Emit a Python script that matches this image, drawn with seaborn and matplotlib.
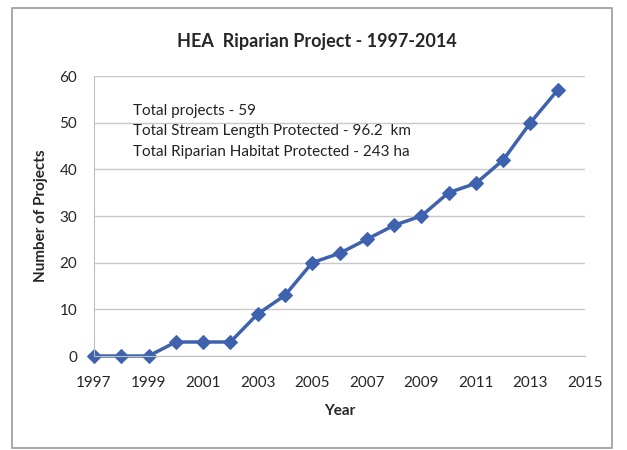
import matplotlib
matplotlib.use("Agg")
import matplotlib.pyplot as plt
import seaborn as sns
import pandas as pd
from matplotlib.patches import Rectangle

# Data
years = [1997, 1998, 1999, 2000, 2001, 2002, 2003, 2004, 2005,
         2006, 2007, 2008, 2009, 2010, 2011, 2012, 2013, 2014]
projects = [0, 0, 0, 3, 3, 3, 9, 13, 20,
            22, 25, 28, 30, 35, 37, 42, 50, 57]
notes = ["Total projects - 59",
         "Total Stream Length Protected - 96.2  km",
         "Total Riparian Habitat Protected - 243 ha"]

df = pd.DataFrame({"Year": years, "Projects": projects})

sns.set_style("white")
plt.rcParams["font.family"] = ["Lato", "DejaVu Sans"]

fig = plt.figure(figsize=(6.27, 4.5), dpi=100)
ax = fig.add_axes([94 / 627, 94 / 450, 491 / 627, 280 / 450])

sns.lineplot(
    x="Year",
    y="Projects",
    data=df,
    marker="D",
    markersize=7,
    color="#3F62AE",
    markeredgecolor="#3F62AE",
    linewidth=2.5,
    clip_on=False,
    ax=ax
)

ax.set_xlim(1997, 2015)
ax.set_ylim(0, 60)
ax.set_xticks(range(1997, 2016, 2))
ax.set_yticks(range(0, 61, 10))
ax.yaxis.grid(True, color="#C8C8C8", linewidth=1)
ax.xaxis.grid(False)
for s in ["top", "right"]:
    ax.spines[s].set_visible(False)
ax.spines["left"].set_color("#BEBEBE")
ax.spines["bottom"].set_color("#BEBEBE")
ax.tick_params(axis="x", length=5, color="#BEBEBE", direction="inout", labelsize=11, pad=12)
ax.tick_params(axis="y", length=0, labelsize=11, pad=12)

fig.text(0.505, 1 - 42 / 450, "HEA  Riparian Project - 1997-2014",
         fontsize=13, fontweight="bold", ha="center", va="center")
ax.set_xlabel("Year", fontsize=11, fontweight="bold", labelpad=10)
ax.set_ylabel("Number of Projects", fontsize=11, fontweight="bold", labelpad=8)

for i, t in enumerate(notes):
    ax.text(0.079, 0.875 - i * 0.073, t, transform=ax.transAxes,
            fontsize=11, va="center", ha="left", color="#222222")

# outer chart frame
fig.patches.append(Rectangle((12 / 627, 2 / 450), 600 / 627, 440 / 450,
                             transform=fig.transFigure, fill=False,
                             edgecolor="#9A9A9A", linewidth=1.2))

plt.savefig("out.png", dpi=100)
plt.close()
